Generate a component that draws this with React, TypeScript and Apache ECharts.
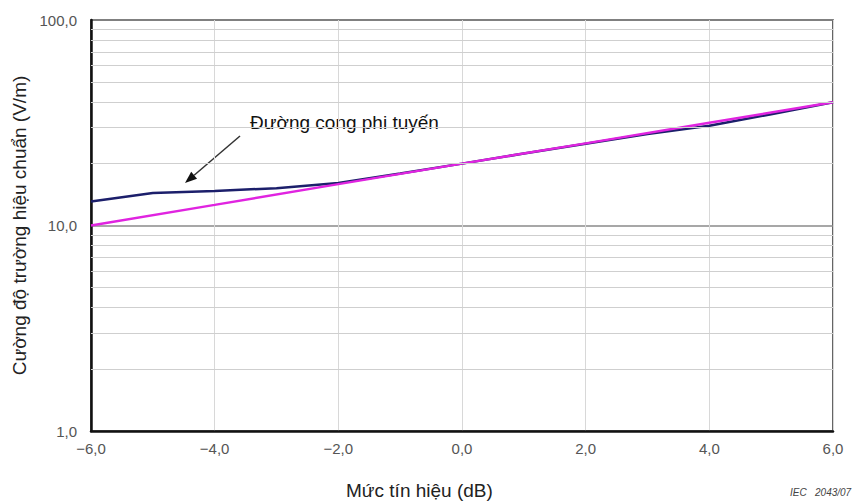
import React, { useEffect, useRef } from "react";
import * as echarts from "echarts";

const linearX = [-6, -4, -2, 0, 2, 4, 6];
const linearY = [10.0, 12.6, 15.9, 20.0, 25.1, 31.6, 39.8];
const nonlinX = [-6, -5, -4, -3, -2, -1, 0, 1, 2, 3, 4, 5, 6];
const nonlinY = [13.1, 14.4, 14.7, 15.2, 16.1, 17.9, 20.0, 22.4, 25.0, 27.9, 30.6, 34.8, 39.8];
const minorLevels = [2, 3, 4, 5, 6, 7, 8, 9, 20, 30, 40, 50, 60, 70, 80, 90];

const FONT = "'Liberation Sans', Arial, sans-serif";

const fmt = (v: number) => v.toFixed(1).replace(".", ",").replace("-", "\u2212");

export default function App() {
  const ref = useRef<HTMLDivElement>(null);
  useEffect(() => {
    if (!ref.current) return;
    const chart = echarts.init(ref.current, undefined, { renderer: "svg" });
    const tipX = 185, tipY = 183;
    const sx = 240, sy = 136;
    const dx = tipX - sx, dy = tipY - sy;
    const len = Math.sqrt(dx * dx + dy * dy);
    const ux = dx / len, uy = dy / len;
    const hl = 12, hw = 4.5;
    const bx = tipX - ux * hl, by = tipY - uy * hl;
    const px = -uy * hw, py = ux * hw;
    chart.setOption({
      animation: false,
      backgroundColor: "#fff",
      grid: {
        left: 91,
        top: 20,
        width: 742,
        height: 411,
        show: true,
        borderColor: "#333",
        borderWidth: 1.5,
      },
      xAxis: {
        type: "value",
        min: -6,
        max: 6,
        interval: 2,
        axisLine: { show: true, onZero: false, lineStyle: { color: "#111", width: 2.5 } },
        axisTick: { show: false },
        axisLabel: {
          formatter: (v: number) => fmt(v),
          color: "#555",
          fontSize: 15,
          fontFamily: FONT,
          margin: 10,
          showMinLabel: true,
          showMaxLabel: true,
        },
        splitLine: { show: true, lineStyle: { color: "#d8d8d8", width: 1 } },
      },
      yAxis: {
        type: "log",
        logBase: 10,
        min: 1,
        max: 100,
        axisLine: { show: true, onZero: false, lineStyle: { color: "#111", width: 2.5 } },
        axisTick: { show: false },
        axisLabel: {
          formatter: (v: number) => fmt(v),
          color: "#555",
          fontSize: 15,
          fontFamily: FONT,
          margin: 14,
        },
        splitLine: { show: true, lineStyle: { color: "#8a8a8a", width: 1.5 } },
        name: "C\u01b0\u1eddng \u0111\u1ed9 tr\u01b0\u1eddng hi\u1ec7u chu\u1ea9n (V/m)",
        nameLocation: "middle",
        nameGap: 57,
        nameTextStyle: { color: "#222", fontSize: 19, fontFamily: FONT },
      },
      graphic: [
        {
          type: "text",
          left: 346,
          top: 481,
          style: { text: "M\u1ee9c t\u00edn hi\u1ec7u (dB)", fill: "#222", font: `19px ${FONT}` },
        },
        {
          type: "text",
          left: 790,
          top: 487,
          style: { text: "IEC   2043/07", fill: "#444", font: `italic 10px ${FONT}` },
        },
        {
          type: "text",
          left: 250,
          top: 113,
          style: { text: "\u0110\u01b0\u1eddng cong phi tuy\u1ebfn", fill: "#111", font: `19px ${FONT}` },
        },
        {
          type: "line",
          shape: { x1: sx, y1: sy, x2: bx, y2: by },
          style: { stroke: "#333", lineWidth: 1.5 },
        },
        {
          type: "polygon",
          shape: { points: [[tipX, tipY], [bx + px, by + py], [bx - px, by - py]] },
          style: { fill: "#111" },
        },
      ],
      series: [
        {
          type: "line",
          silent: true,
          symbol: "none",
          data: [],
          markLine: {
            silent: true,
            symbol: "none",
            label: { show: false },
            lineStyle: { color: "#cfcfcf", width: 1, type: "solid" },
            data: minorLevels.map((v) => ({ yAxis: v })),
          },
        },
        {
          type: "line",
          symbol: "none",
          data: nonlinX.map((x, i) => [x, nonlinY[i]]),
          lineStyle: { color: "#1c1f6b", width: 2.5 },
        },
        {
          type: "line",
          symbol: "none",
          data: linearX.map((x, i) => [x, linearY[i]]),
          lineStyle: { color: "#e024e0", width: 2.5 },
        },
      ],
    });
    return () => chart.dispose();
  }, []);
  return (
    <div
      ref={ref}
      style={{ position: "fixed", left: 0, top: 0, width: 861, height: 504 }}
    />
  );
}
